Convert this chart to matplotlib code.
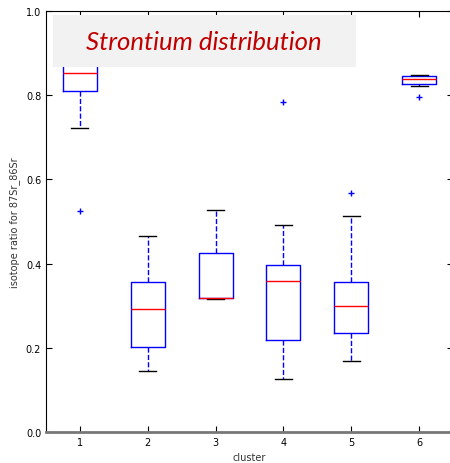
import matplotlib
matplotlib.use('Agg')
from matplotlib import pyplot as plt
from matplotlib.patches import Rectangle

# box stats, one entry per cluster
clusters = [1, 2, 3, 4, 5, 6]
whislo = [0.723, 0.146, 0.316, 0.125, 0.169, 0.823]
q1 = [0.809, 0.201, 0.318, 0.219, 0.236, 0.826]
med = [0.853, 0.291, 0.318, 0.358, 0.299, 0.838]
q3 = [0.93, 0.356, 0.424, 0.397, 0.356, 0.846]
whishi = [0.98, 0.466, 0.528, 0.492, 0.514, 0.848]
fliers = [[0.526], [], [], [0.783], [0.568], [0.796]]

stats = []
for i in range(len(clusters)):
    stats.append({'label': str(clusters[i]), 'whislo': whislo[i], 'q1': q1[i], 'med': med[i],
                  'q3': q3[i], 'whishi': whishi[i], 'fliers': fliers[i]})

fig = plt.figure(figsize=(4.5, 4.64), dpi=100)
ax = fig.add_axes([46/450., 1 - 433/464., 407/450., 421/464.])

ax.bxp(stats, positions=clusters, widths=0.5,
       boxprops=dict(color='blue', linewidth=1),
       whiskerprops=dict(color='blue', linestyle='--', linewidth=1),
       capprops=dict(color='black', linewidth=1),
       medianprops=dict(color='red', linewidth=1),
       flierprops=dict(marker='+', markeredgecolor='blue', markersize=5, linestyle='none'))

ax.set_xlim(0.5, 6.5)
ax.set_ylim(0.0, 1.0)
ax.set_yticks([0.0, 0.2, 0.4, 0.6, 0.8, 1.0])
ax.set_xlabel('cluster', fontsize=7, color='#333333')
ax.set_ylabel('isotope ratio for 87Sr_86Sr', fontsize=7, color='#333333')
ax.tick_params(direction='in', top=True, right=True, labelsize=7, length=4, colors='black')
ax.spines['right'].set_visible(False)
ax.spines['bottom'].set_color('#777777')
ax.spines['bottom'].set_linewidth(2)

# grey title box laid over the top of the plot
fig.add_artist(Rectangle((53/450., 1 - 68/464.), 303/450., 52/464.,
                         transform=fig.transFigure, facecolor='#f2f2f2', edgecolor='none', zorder=5))
fig.text(204/450., 1 - 43/464., 'Strontium distribution', fontsize=18.5, style='italic',
         family='Lato', color='#c00000', ha='center', va='center', zorder=6)

plt.savefig('out.png', dpi=100)
